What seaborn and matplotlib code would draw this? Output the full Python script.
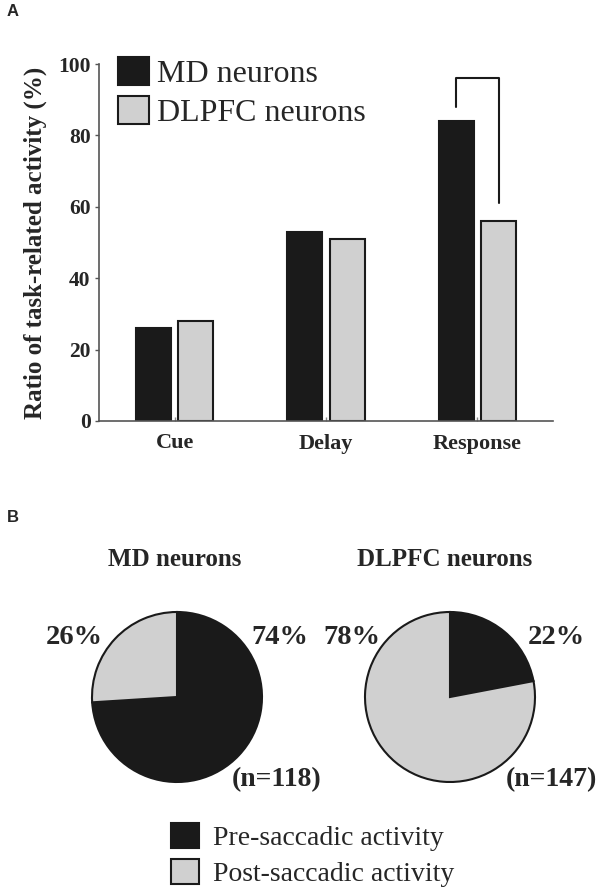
import pandas as pd
import matplotlib
matplotlib.use("Agg")
import matplotlib.pyplot as plt
import seaborn as sns
from matplotlib.patches import Patch

# data
epochs = ["Cue", "Delay", "Response"]
md_ratio = [26, 53, 84]
dlpfc_ratio = [28, 51, 56]
groups = ["MD neurons", "DLPFC neurons"]
pre_pct = [74, 22]
post_pct = [26, 78]
n_cells = [118, 147]
activity_labels = ["Pre-saccadic activity", "Post-saccadic activity"]

BLACK = "#1a1a1a"
GREY = "#d0d0d0"

sns.set_theme(style="white")
plt.rcParams["font.family"] = ["Liberation Serif", "DejaVu Serif"]

df = pd.DataFrame({
    "epoch": epochs * 2,
    "ratio": md_ratio + dlpfc_ratio,
    "group": [groups[0]] * len(epochs) + [groups[1]] * len(epochs),
})

fig = plt.figure(figsize=(6, 8.89), dpi=100)
W, H = 600, 889

# ---- panel A: bar chart
ax = fig.add_axes([99 / W, 1 - 421 / H, 454 / W, 357 / H])
sns.barplot(data=df, x="epoch", y="ratio", hue="group", palette=[BLACK, GREY],
            width=0.56, gap=0.18, edgecolor=BLACK, linewidth=1.5,
            legend=False, ax=ax)
ax.set_xlim(-0.5, 2.5)
ax.set_ylim(0, 100)
ax.set_yticks(range(0, 101, 20))
ax.set_xlabel("")
ax.set_ylabel("Ratio of task-related activity (%)", fontsize=18,
              fontweight="bold", labelpad=8)
for lab in ax.get_yticklabels():
    lab.set_fontweight("bold")
for lab in ax.get_xticklabels():
    lab.set_fontweight("bold")
ax.tick_params(axis="y", left=True, direction="out", length=3, width=1,
               color="#555555", labelsize=15.5, pad=3)
ax.tick_params(axis="x", bottom=True, direction="in", length=3, width=1,
               color="#888888", labelsize=16, pad=9)
sns.despine(ax=ax)
for s in ["left", "bottom"]:
    ax.spines[s].set_color("#555555")
    ax.spines[s].set_linewidth(1.2)

# significance bracket between Response bars
md_bar = ax.containers[0][2]
dl_bar = ax.containers[1][2]
xl = md_bar.get_x() + md_bar.get_width() / 2
xr = dl_bar.get_x() + dl_bar.get_width() / 2
top = max(md_ratio[2], dlpfc_ratio[2]) + 12
ax.plot([xl, xl, xr, xr], [md_ratio[2] + 4, top, top, dlpfc_ratio[2] + 5],
        color=BLACK, lw=1.5, clip_on=False)

handles = [Patch(facecolor=BLACK, edgecolor=BLACK, linewidth=1.5),
           Patch(facecolor=GREY, edgecolor=BLACK, linewidth=1.5)]
fig.legend(handles, groups, loc="upper left", bbox_to_anchor=(118 / W, 1 - 57 / H),
           frameon=False, fontsize=23, handlelength=0.97, handleheight=0.97,
           handletextpad=0.25, labelspacing=0.22, borderpad=0, borderaxespad=0)

# ---- panel B: pies
centers = [(177, 697), (450, 697)]
r = 85
title_x = [175, 445]
pre_lab_x = [280, 556]
post_lab_x = [74, 352]
n_lab_x = [277, 551]
for i, (cx, cy) in enumerate(centers):
    pax = fig.add_axes([(cx - r * 1.03) / W, 1 - (cy + r * 1.03) / H,
                        2 * r * 1.03 / W, 2 * r * 1.03 / H])
    pax.pie([pre_pct[i], post_pct[i]], colors=[BLACK, GREY], startangle=90,
            counterclock=False, wedgeprops=dict(edgecolor=BLACK, linewidth=1.5))
    pax.set_xlim(-1.03, 1.03)
    pax.set_ylim(-1.03, 1.03)
    pax.set_aspect("equal")
    pax.axis("off")
    fig.text(title_x[i] / W, 1 - 560 / H, groups[i], ha="center", va="center",
             fontsize=18, fontweight="bold")
    fig.text(pre_lab_x[i] / W, 1 - 638 / H, f"{pre_pct[i]}%", ha="center",
             va="center", fontsize=20.5, fontweight="bold")
    fig.text(post_lab_x[i] / W, 1 - 638 / H, f"{post_pct[i]}%", ha="center",
             va="center", fontsize=20.5, fontweight="bold")
    fig.text(n_lab_x[i] / W, 1 - 780 / H, f"(n={n_cells[i]})", ha="center",
             va="center", fontsize=20, fontweight="bold")

handles_b = [Patch(facecolor=BLACK, edgecolor=BLACK, linewidth=1.5),
             Patch(facecolor=GREY, edgecolor=BLACK, linewidth=1.5)]
fig.legend(handles_b, activity_labels, loc="upper left",
           bbox_to_anchor=(171 / W, 1 - 823 / H), frameon=False, fontsize=20,
           handlelength=1.0, handleheight=1.0, handletextpad=0.5,
           labelspacing=0.3, borderpad=0, borderaxespad=0)

# panel letters
fig.text(7 / W, 1 - 11 / H, "A", ha="left", va="center", fontsize=12,
         fontweight="bold", family=["Liberation Sans", "DejaVu Sans"])
fig.text(7 / W, 1 - 517 / H, "B", ha="left", va="center", fontsize=12,
         fontweight="bold", family=["Liberation Sans", "DejaVu Sans"])

fig.savefig("out.png", dpi=100, facecolor="white")
